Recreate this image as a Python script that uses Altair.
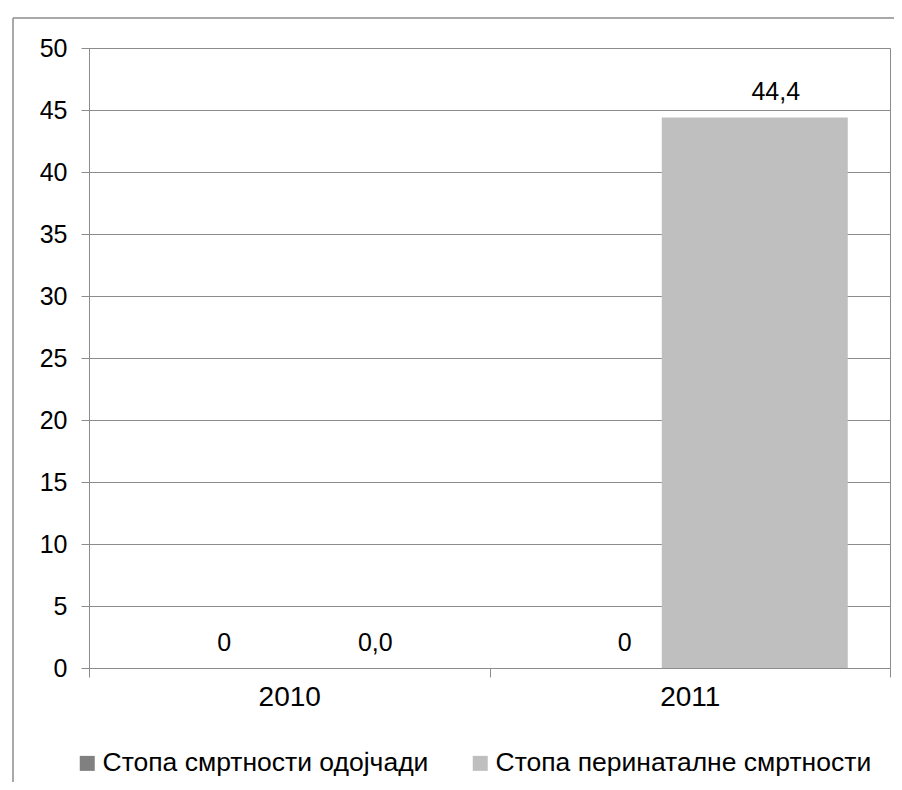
import altair as alt
import pandas as pd

years = ["2010", "2011"]
series = ["Стопа смртности одојчади", "Стопа перинаталне смртности"]
infant = [0, 0]
perinatal = [0.0, 44.4]
infant_labels = ["0", "0"]
perinatal_labels = ["0,0", "44,4"]

rows = []
for i, y in enumerate(years):
    rows.append({"Year": y, "Series": series[0], "Value": infant[i], "Label": infant_labels[i]})
    rows.append({"Year": y, "Series": series[1], "Value": perinatal[i], "Label": perinatal_labels[i]})
df = pd.DataFrame(rows)

FONT = "Liberation Sans"
GRAY = "#8c8c8c"

base = alt.Chart(df).encode(
    x=alt.X(
        "Year:N",
        sort=years,
        scale=alt.Scale(paddingInner=0, paddingOuter=0),
        axis=alt.Axis(
            title=None, labelAngle=0, tickBand="extent", tickSize=9,
            labelFontSize=28, labelColor="black", labelFont=FONT, labelPadding=6,
            domainColor=GRAY, tickColor=GRAY, grid=False,
        ),
    ),
    xOffset=alt.XOffset("Series:N", sort=series,
                        scale=alt.Scale(paddingInner=0, paddingOuter=0.54)),
)

bars = base.mark_bar(width=186).encode(
    y=alt.Y(
        "Value:Q",
        scale=alt.Scale(domain=[0, 50]),
        axis=alt.Axis(
            title=None, values=list(range(0, 51, 5)), tickSize=8,
            labelFontSize=25, labelColor="black", labelFont=FONT, labelPadding=14,
            domainColor=GRAY, tickColor=GRAY, gridColor=GRAY,
        ),
    ),
    color=alt.Color(
        "Series:N", sort=series,
        scale=alt.Scale(domain=series, range=["#808080", "#bfbfbf"]),
        legend=alt.Legend(
            title=None, orient="none", legendX=-15, legendY=702, direction="horizontal",
            columns=2, columnPadding=38, symbolType="square", symbolSize=225,
            symbolStrokeWidth=0, labelFontSize=26.5, labelFont=FONT, labelColor="black",
            labelLimit=0, labelOffset=2, padding=0,
        ),
    ),
)

txt1 = base.mark_text(fontSize=25, font=FONT, color="black", baseline="alphabetic", dy=-17).encode(
    y="Value:Q", text="Label:N"
).transform_filter(alt.datum.Series == series[0])

txt2 = base.mark_text(fontSize=25, font=FONT, color="black", baseline="alphabetic", dy=-17, dx=21).encode(
    y="Value:Q", text="Label:N"
).transform_filter(alt.datum.Series == series[1])

frame_src = alt.Chart(pd.DataFrame({"a": [0]}))
frame_top = frame_src.mark_rule(color=GRAY, strokeWidth=1.5).encode(
    x=alt.value(-76), x2=alt.value(900), y=alt.value(-30)
)
frame_left = frame_src.mark_rule(color=GRAY, strokeWidth=1.5).encode(
    x=alt.value(-76), y=alt.value(-30), y2=alt.value(800)
)

chart = alt.layer(bars, txt1, txt2, frame_top, frame_left).properties(
    width=801, height=620,
    padding={"left": 81, "top": 40, "right": 4, "bottom": 114},
    autosize=alt.AutoSizeParams(type="none"),
).configure_view(stroke=GRAY, strokeWidth=1)

chart.save("out.html", embed_options={"renderer": "svg", "actions": False})
